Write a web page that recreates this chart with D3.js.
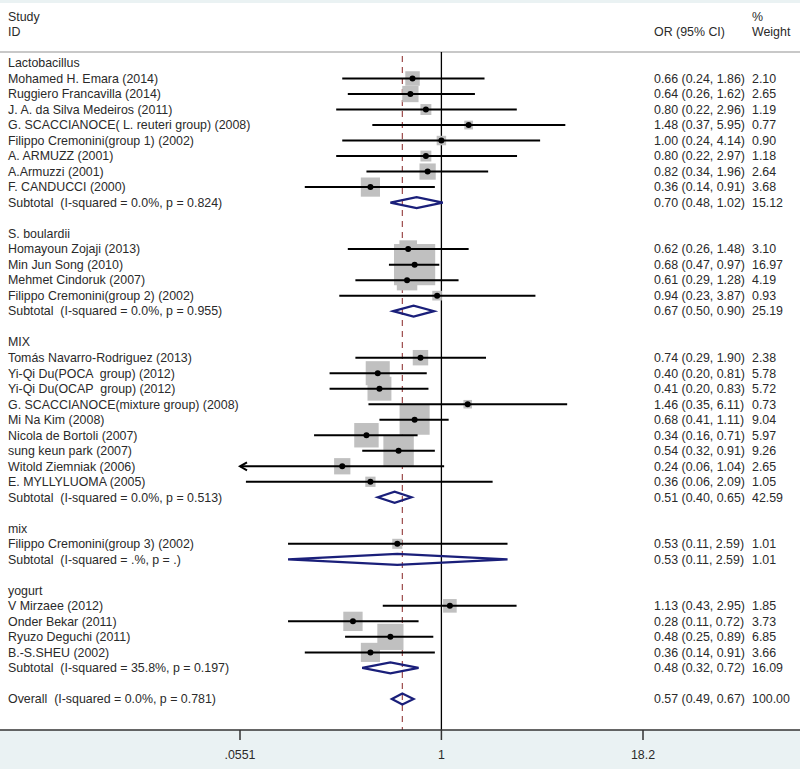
<!DOCTYPE html>
<html>
<head>
<meta charset="utf-8">
<script src="https://cdn.jsdelivr.net/npm/d3@7"></script>
<style>
  body { margin: 0; background: #fff; }
  text { font-family: "Liberation Sans", Arial, sans-serif; fill: #2a2a2a; white-space: pre; }
</style>
</head>
<body>
<div id="plot"></div>
<script>
// data

var groups = ['Lactobacillus', 'S. boulardii', 'MIX', 'mix', 'yogurt'];

var studies = [
  'Mohamed H. Emara (2014)', 'Ruggiero Francavilla (2014)', 'J. A. da Silva Medeiros (2011)',
  'G. SCACCIANOCE( L. reuteri group) (2008)', 'Filippo Cremonini(group 1) (2002)', 'A. ARMUZZ (2001)',
  'A.Armuzzi (2001)', 'F. CANDUCCI (2000)',
  'Homayoun Zojaji (2013)', 'Min Jun Song (2010)', 'Mehmet Cindoruk (2007)', 'Filippo Cremonini(group 2) (2002)',
  'Tomás Navarro-Rodriguez (2013)', 'Yi-Qi Du(POCA  group) (2012)', 'Yi-Qi Du(OCAP  group) (2012)',
  'G. SCACCIANOCE(mixture group) (2008)', 'Mi Na Kim (2008)', 'Nicola de Bortoli (2007)', 'sung keun park (2007)',
  'Witold Ziemniak (2006)', 'E. MYLLYLUOMA (2005)',
  'Filippo Cremonini(group 3) (2002)',
  'V Mirzaee (2012)', 'Onder Bekar (2011)', 'Ryuzo Deguchi (2011)', 'B.-S.SHEU (2002)'
];
var studyGroup = [0,0,0,0,0,0,0,0, 1,1,1,1, 2,2,2,2,2,2,2,2,2, 3, 4,4,4,4];
var or     = [0.66,0.64,0.80,1.48,1.00,0.80,0.82,0.36, 0.62,0.68,0.61,0.94, 0.74,0.40,0.41,1.46,0.68,0.34,0.54,0.24,0.36, 0.53, 1.13,0.28,0.48,0.36];
var lo     = [0.24,0.26,0.22,0.37,0.24,0.22,0.34,0.14, 0.26,0.47,0.29,0.23, 0.29,0.20,0.20,0.35,0.41,0.16,0.32,0.055,0.06, 0.11, 0.43,0.11,0.25,0.14];
var hi     = [1.86,1.62,2.96,5.95,4.14,2.97,1.96,0.91, 1.48,0.97,1.28,3.87, 1.90,0.81,0.83,6.11,1.11,0.71,0.91,1.04,2.09, 2.59, 2.95,0.72,0.89,0.91];
var weight = [2.10,2.65,1.19,0.77,0.90,1.18,2.64,3.68, 3.10,16.97,4.19,0.93, 2.38,5.78,5.72,0.73,9.04,5.97,9.26,2.65,1.05, 1.01, 1.85,3.73,6.85,3.66];

var subOR = [0.70, 0.67, 0.51, 0.53, 0.48];
var subLo = [0.48, 0.50, 0.40, 0.11, 0.32];
var subHi = [1.02, 0.90, 0.65, 2.59, 0.72];
var subWeight = [15.12, 25.19, 42.59, 1.01, 16.09];
var subHet = ['0.0%, p = 0.824', '0.0%, p = 0.955', '0.0%, p = 0.513', '.%, p = .', '35.8%, p = 0.197'];

var overall = {or: 0.57, lo: 0.49, hi: 0.67, weight: 100, het: '0.0%, p = 0.781'};

var axisTicks = [0.0551, 1, 18.2];
var axisLabels = ['.0551', '1', '18.2'];

// layout

var width = 800, height = 769;
var rowTop = 63, rowStep = 15.51;
var plotTop = 52, axisY = 730;
var fs = 12.4;

var svg = d3.select('#plot').append('svg')
  .attr('width', width)
  .attr('height', height);

// build row list: group header, studies, subtotal, blank
var rows = [];
groups.forEach(function(g, gi){
  rows.push({type: 'head', label: g});
  studyGroup.forEach(function(s, i){
    if (s === gi) rows.push({type: 'study', label: studies[i], or: or[i], lo: lo[i], hi: hi[i], w: weight[i]});
  });
  rows.push({type: 'sub', label: 'Subtotal  (I-squared = ' + subHet[gi] + ')',
    or: subOR[gi], lo: subLo[gi], hi: subHi[gi], w: subWeight[gi]});
  rows.push({type: 'blank'});
});
rows.push({type: 'sub', label: 'Overall  (I-squared = ' + overall.het + ')',
  or: overall.or, lo: overall.lo, hi: overall.hi, w: overall.weight});

var y = function(i){ return rowTop + i * rowStep; };

var x = d3.scaleLog().domain([0.0551, 18.2]).range([240, 643]);
var f2 = d3.format('.2f');

// backgrounds
svg.append('rect').attr('x', 0).attr('y', 0).attr('width', width).attr('height', 3).attr('fill', '#eaf2f3');
svg.append('rect').attr('x', 0).attr('y', axisY).attr('width', width).attr('height', height - axisY).attr('fill', '#eaf2f3');

// header
svg.append('text').attr('x', 8).attr('y', 21).attr('font-size', fs).text('Study');
svg.append('text').attr('x', 8).attr('y', 36).attr('font-size', fs).text('ID');
svg.append('text').attr('x', 654).attr('y', 36).attr('font-size', fs).text('OR (95% CI)');
svg.append('text').attr('x', 752).attr('y', 21).attr('font-size', fs).text('%');
svg.append('text').attr('x', 752).attr('y', 36).attr('font-size', fs).text('Weight');
svg.append('line').attr('x1', 0).attr('x2', width).attr('y1', plotTop).attr('y2', plotTop)
  .attr('stroke', '#c8c8c8').attr('stroke-width', 2);

// reference lines
svg.append('line').attr('x1', x(1)).attr('x2', x(1)).attr('y1', plotTop).attr('y2', axisY)
  .attr('stroke', '#000').attr('stroke-width', 1.3);
svg.append('line').attr('x1', x(overall.or)).attr('x2', x(overall.or)).attr('y1', plotTop + 4).attr('y2', axisY)
  .attr('stroke', '#9c4a4a').attr('stroke-width', 1.2).attr('stroke-dasharray', '6,5');

var studyRows = rows.map(function(r, i){ r.i = i; return r; }).filter(function(r){ return r.type === 'study'; });
var subRows = rows.filter(function(r){ return r.type === 'sub'; });

// weight boxes
svg.selectAll('rect.box').data(studyRows).enter().append('rect')
  .classed('box', true)
  .attr('x', function(d){ return x(d.or) - 5 * Math.sqrt(d.w); })
  .attr('y', function(d){ return y(d.i) - 5 * Math.sqrt(d.w); })
  .attr('width', function(d){ return 10 * Math.sqrt(d.w); })
  .attr('height', function(d){ return 10 * Math.sqrt(d.w); })
  .attr('fill', '#c0c0c0');

// confidence intervals
svg.selectAll('line.ci').data(studyRows).enter().append('line')
  .classed('ci', true)
  .attr('x1', function(d){ return x(Math.max(d.lo, 0.0551)); })
  .attr('x2', function(d){ return x(Math.min(d.hi, 18.2)); })
  .attr('y1', function(d){ return y(d.i); })
  .attr('y2', function(d){ return y(d.i); })
  .attr('stroke', '#000').attr('stroke-width', 2);

// arrows where the interval runs off the axis
svg.selectAll('path.arrow').data(studyRows.filter(function(d){ return d.lo < 0.0551; })).enter().append('path')
  .classed('arrow', true)
  .attr('d', function(d){
    var x0 = x(0.0551), yy = y(d.i);
    return 'M' + (x0 + 7) + ',' + (yy - 4) + 'L' + x0 + ',' + yy + 'L' + (x0 + 7) + ',' + (yy + 4);
  })
  .attr('fill', 'none').attr('stroke', '#000').attr('stroke-width', 2);

svg.selectAll('circle.pt').data(studyRows).enter().append('circle')
  .classed('pt', true)
  .attr('cx', function(d){ return x(d.or); })
  .attr('cy', function(d){ return y(d.i); })
  .attr('r', 3)
  .attr('fill', '#000');

// pooled diamonds
svg.selectAll('path.diamond').data(subRows).enter().append('path')
  .classed('diamond', true)
  .attr('d', function(d){
    var yy = y(d.i), h = 5.5;
    return 'M' + x(d.lo) + ',' + yy + 'L' + x(d.or) + ',' + (yy - h) + 'L' + x(d.hi) + ',' + yy +
      'L' + x(d.or) + ',' + (yy + h) + 'Z';
  })
  .attr('fill', 'none').attr('stroke', '#1a1f7a').attr('stroke-width', 2.2);

// text columns
var textRows = rows.filter(function(r){ return r.type !== 'blank'; });
svg.selectAll('text.label').data(textRows).enter().append('text')
  .classed('label', true)
  .attr('x', 8)
  .attr('y', function(d){ return y(d.i) + 4.3; })
  .attr('font-size', fs)
  .text(function(d){ return d.label; });

var numRows = rows.filter(function(r){ return r.type === 'study' || r.type === 'sub'; });
svg.selectAll('text.ci').data(numRows).enter().append('text')
  .classed('ci', true)
  .attr('x', 654)
  .attr('y', function(d){ return y(d.i) + 4.3; })
  .attr('font-size', fs)
  .text(function(d){ return f2(d.or) + ' (' + f2(d.lo) + ', ' + f2(d.hi) + ')'; });
svg.selectAll('text.wt').data(numRows).enter().append('text')
  .classed('wt', true)
  .attr('x', 752)
  .attr('y', function(d){ return y(d.i) + 4.3; })
  .attr('font-size', fs)
  .text(function(d){ return f2(d.w); });

// axis
var axis = svg.append('g').attr('transform', 'translate(0,' + axisY + ')');
axis.append('line').attr('x1', 0).attr('x2', width).attr('stroke', '#333').attr('stroke-width', 1.5);
axis.selectAll('line.tick').data(axisTicks).enter().append('line')
  .classed('tick', true)
  .attr('x1', function(d){ return x(d); }).attr('x2', function(d){ return x(d); })
  .attr('y1', 0).attr('y2', 10)
  .attr('stroke', '#333').attr('stroke-width', 1.5);
axis.selectAll('text.tick').data(axisTicks).enter().append('text')
  .classed('tick', true)
  .attr('x', function(d){ return x(d); })
  .attr('y', 29)
  .attr('text-anchor', 'middle')
  .attr('font-size', fs)
  .text(function(d, i){ return axisLabels[i]; });
</script>
</body>
</html>
